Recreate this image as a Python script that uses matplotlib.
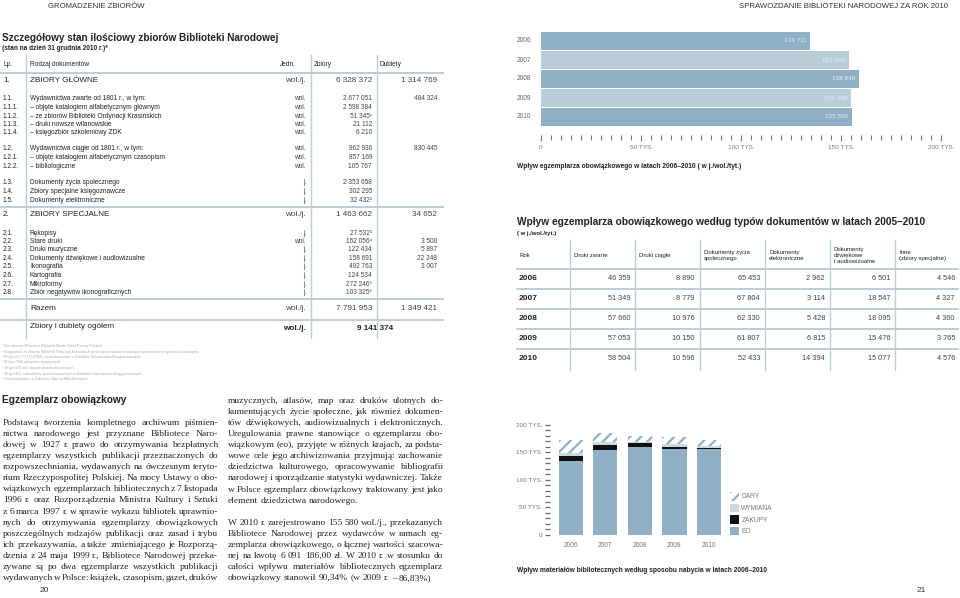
import matplotlib
matplotlib.use('Agg')
import matplotlib.pyplot as plt
from matplotlib.lines import Line2D
import numpy as np

plt.rcParams['font.family'] = ['Liberation Sans', 'DejaVu Sans']
plt.rcParams['hatch.linewidth'] = 1.6

# --- dane: tabela stanu zbiorów ---
lp_small = ['1.1.', '1.1.1.', '1.1.2.', '1.1.3.', '1.1.4.', '1.2.', '1.2.1.', '1.2.2.',
            '1.3.', '1.4.', '1.5.',
            '2.1.', '2.2.', '2.3.', '2.4.', '2.5.', '2.6.', '2.7.', '2.8.']
names_small = ['Wydawnictwa zwarte od 1801 r., w tym:',
               '– objęte katalogiem alfabetycznym głównym',
               '– ze zbiorów Biblioteki Ordynacji Krasińskich',
               '– druki nowsze wilanowskie',
               '– księgozbiór szkoleniowy ZDK',
               'Wydawnictwa ciągłe od 1801 r., w tym:',
               '– objęte katalogiem alfabetycznym czasopism',
               '– bibliologiczne',
               'Dokumenty życia społecznego',
               'Zbiory specjalne księgoznawcze',
               'Dokumenty elektroniczne',
               'Rękopisy', 'Stare druki', 'Druki muzyczne',
               'Dokumenty dźwiękowe i audiowizualne', 'Ikonografia',
               'Kartografia', 'Mikroformy', 'Zbiór negatywów ikonograficznych']
units_small = ['wol.', 'wol.', 'wol.', 'wol.', 'wol.', 'wol.', 'wol.', 'wol.',
               'j.', 'j.', 'j.',
               'j.', 'wol.', 'j.', 'j.', 'j.', 'j.', 'j.', 'j.']
zbiory_small = ['2 677 051', '2 598 384', '51 345¹', '21 112', '6 210',
                '962 936', '857 169', '105 767',
                '2 353 658', '302 295', '32 432²',
                '27 532³', '162 056⁴', '122 434', '158 691', '492 763',
                '124 534', '272 246⁵', '103 325⁶']
dublety_small = ['484 324', '', '', '', '', '830 445', '', '',
                 '', '', '',
                 '', '3 500', '5 897', '22 248', '3 007', '', '', '']

lp_big = ['1.', '2.', '', '']
names_big = ['ZBIORY GŁÓWNE', 'ZBIORY SPECJALNE', 'Razem', 'Zbiory i dublety ogółem']
units_big = ['wol./j.', 'wol./j.', 'wol./j.', 'wol./j.']
zbiory_big = ['6 328 372', '1 463 662', '7 791 953', '9 141 374']
dublety_big = ['1 314 769', '34 652', '1 349 421', '']

footnotes = ['* Bez zbiorów Wirtualnej Biblioteki Nauki i Dzieł Pisarzy Polskich.',
             '¹ Księgozbiór ze zbiorów Biblioteki Ordynacji Krasińskich przed opracowaniem i skomputeryzowaniem w systemach katalogów.',
             '² W tym 23 173 CD-ROM-y przechowywane w Zakładzie Dokumentów Księgoznawczych.',
             '³ W tym 7940 rękopisów muzycznych.',
             '⁴ W tym 615 wol. starych druków muzycznych.',
             '⁵ W tym 80 j. mikrofilmów, przechowywanych w Zakładzie Dokumentów Księgoznawczych.',
             '⁶ Przechowywane w Zakładzie Zbiorów Mikrofilmowych.']

# --- dane: wpływ eo 2006-2010 ---
years = ['2006', '2007', '2008', '2009', '2010']
eo = [134711, 153920, 158849, 155066, 155580]
eo_labels = ['134 711', '153 920', '158 849', '155 066', '155 580']

# --- dane: według typów dokumentów ---
t2_headers = ['Rok', 'Druki zwarte', 'Druki ciągłe', 'Dokumenty życia\nspołecznego',
              'Dokumenty\nelektroniczne', 'Dokumenty\ndźwiękowe\ni audiowizualne',
              'Inne\n(zbiory specjalne)']
druki_zwarte = ['46 359', '51 349', '57 660', '57 053', '58 504']
druki_ciagle = ['8 890', '8 779', '10 976', '10 150', '10 596']
zycie_spol = ['65 453', '67 804', '62 330', '61 807', '52 433']
elektroniczne = ['2 962', '3 114', '5 428', '6 815', '14 394']
dzwiekowe = ['6 501', '18 547', '18 095', '15 476', '15 077']
inne = ['4 546', '4 327', '4 360', '3 765', '4 576']

# --- dane: sposób nabycia ---
zakupy = [8500, 9000, 7000, 4000, 2500]
wymiana = [5000, 5000, 3000, 6000, 3000]
dary = [24000, 17500, 10500, 13000, 11000]

# --- tekst ---
col_left = ['Podstawą tworzenia kompletnego archiwum piśmien-',
            'nictwa narodowego jest przyznane Bibliotece Naro-',
            'dowej w 1927 r. prawo do otrzymywania bezpłatnych',
            'egzemplarzy wszystkich publikacji przeznaczonych do',
            'rozpowszechniania, wydawanych na ówczesnym teryto-',
            'rium Rzeczypospolitej Polskiej. Na mocy Ustawy o obo-',
            'wiązkowych egzemplarzach bibliotecznych z 7 listopada',
            '1996 r. oraz Rozporządzenia Ministra Kultury i Sztuki',
            'z 6 marca 1997 r. w sprawie wykazu bibliotek uprawnio-',
            'nych do otrzymywania egzemplarzy obowiązkowych',
            'poszczególnych rodzajów publikacji oraz zasad i trybu',
            'ich przekazywania, a także zmieniającego je Rozporzą-',
            'dzenia z 24 maja 1999 r., Bibliotece Narodowej przeka-',
            'zywane są po dwa egzemplarze wszystkich publikacji',
            'wydawanych w Polsce: książek, czasopism, gazet, druków']
col_right = ['muzycznych, atlasów, map oraz druków ulotnych do-',
             'kumentujących życie społeczne, jak również dokumen-',
             'tów dźwiękowych, audiowizualnych i elektronicznych.',
             'Uregulowania prawne stanowiące o egzemplarzu obo-',
             'wiązkowym (eo), przyjęte w różnych krajach, za podsta-',
             'wowe cele jego archiwizowania przyjmują: zachowanie',
             'dziedzictwa kulturowego, opracowywanie bibliografii',
             'narodowej i sporządzanie statystyki wydawniczej. Także',
             'w Polsce egzemplarz obowiązkowy traktowany jest jako',
             'element dziedzictwa narodowego.',
             '',
             'W 2010 r. zarejestrowano 155 580 wol./j., przekazanych',
             'Bibliotece Narodowej przez wydawców w ramach eg-',
             'zemplarza obowiązkowego, o łącznej wartości szacowa-',
             'nej na kwotę 6 091 186,00 zł. W 2010 r. w stosunku do',
             'całości wpływu materiałów bibliotecznych egzemplarz',
             'obowiązkowy stanowił 90,34% (w 2009 r. – 86,83%)']

W, H = 960, 598
fig = plt.figure(figsize=(W / 100, H / 100), dpi=100)
renderer = fig.canvas.get_renderer()

DARK = '#222222'
LINE = '#bccdd8'
BLUE = '#8fb0c5'
LIGHT = '#b9cdd9'
PALE = '#cbd8e1'
BODY = 6.8


def T(x, y, s, size=4.6, ha='left', va='center', color=DARK, **kw):
    return fig.text(x / W, 1 - y / H, s, fontsize=size, ha=ha, va=va, color=color, **kw)


def hline(x0, x1, y, color=LINE, lw=1.2):
    fig.add_artist(Line2D([x0 / W, x1 / W], [1 - y / H, 1 - y / H], color=color, lw=lw))


def vline(x, y0, y1, color=LINE, lw=1.0):
    fig.add_artist(Line2D([x / W, x / W], [1 - y0 / H, 1 - y1 / H], color=color, lw=lw))


def text_width(s, size):
    t = T(0, 0, s, size=size, family='Liberation Serif')
    w = t.get_window_extent(renderer).width
    t.remove()
    return w


SPACE = text_width('a a', BODY) - 2 * text_width('a', BODY)


def justified(x0, x1, y, line, size, last=False):
    # tekst wyjustowany jak w składzie strony
    words = line.split(' ')
    texts = [T(x0, y, w, size=size, family='Liberation Serif') for w in words]
    widths = [t.get_window_extent(renderer).width for t in texts]
    if last or len(words) < 2:
        gap = SPACE
    else:
        gap = (x1 - x0 - sum(widths)) / (len(words) - 1)
    x = x0
    for t, wd in zip(texts, widths):
        t.set_x(x / W)
        x += wd + gap


# nagłówki stron
T(48, 6, 'GROMADZENIE ZBIORÓW', size=5.6, color='#333333')
T(948, 6, 'SPRAWOZDANIE BIBLIOTEKI NARODOWEJ ZA ROK 2010', size=5.6, ha='right', color='#333333')
T(40, 591, '20', size=6, color='#333333')
T(917, 591, '21', size=6, color='#333333')

# ---------------- tabela 1 ----------------
T(2, 38, 'Szczegółowy stan ilościowy zbiorów Biblioteki Narodowej', size=7.2, weight='bold')
T(2, 48, '(stan na dzień 31 grudnia 2010 r.)*', size=4.7, weight='bold')

for x in (26, 310.5, 377):
    vline(x, 55, 338)
hline(0, 443, 73, lw=1.4)
hline(0, 443, 207, lw=1.4)
hline(0, 443, 299, lw=1.4)
hline(0, 443, 320, lw=1.4)

T(3, 65, 'Lp.', size=4.7)
T(30, 65, 'Rodzaj dokumentów', size=4.7)
T(280, 65, 'Jedn.', size=4.7)
T(314, 65, 'Zbiory', size=4.7)
T(380, 65, 'Dublety', size=4.7)

small_y = [99, 107.5, 116, 124.5, 133, 149, 157.5, 166, 183, 191.5, 200,
           233, 241.5, 250, 258.5, 267, 275.5, 284, 292.5]
for i, yy in enumerate(small_y):
    T(3, yy, lp_small[i], size=4.7)
    T(30, yy, names_small[i], size=4.8)
    T(306, yy, units_small[i], size=4.7, ha='right', color='#444444')
    T(372, yy, zbiory_small[i], size=4.7, ha='right', color='#444444')
    T(437, yy, dublety_small[i], size=4.7, ha='right', color='#444444')

big_y = [81, 215, 309, 327]
for i, yy in enumerate(big_y):
    last = i == 3
    T(3, yy, lp_big[i], size=5.9)
    T(30, yy, names_big[i], size=5.9)
    T(306, yy + (2 if last else 0), units_big[i], size=5.9, ha='right',
      weight='bold' if last else 'normal', color=DARK if last else '#444444')
    if last:
        T(375, yy + 2, zbiory_big[i], size=5.9, ha='center', weight='bold')
    else:
        T(372, yy, zbiory_big[i], size=5.9, ha='right', color='#444444')
        T(437, yy, dublety_big[i], size=5.9, ha='right', color='#444444')

for i, s in enumerate(footnotes):
    T(2, 346 + i * 5.5, s, size=2.5, color='#aaaaaa')

# ---------------- tekst ----------------
T(2, 400, 'Egzemplarz obowiązkowy', size=7.3, weight='bold')
for i, s in enumerate(col_left):
    justified(3, 218, 423 + i * 11.07, s, BODY)
for i, s in enumerate(col_right):
    if s:
        end = i + 1 == len(col_right) or col_right[i + 1] == ''
        justified(228, 443, 401 + i * 11.07, s, BODY, last=end)

# ---------------- wykres 1: wpływ eo ----------------
ax1 = fig.add_axes([541 / W, 1 - 126.5 / H, 400 / W, 95 / H])
pos = np.arange(len(years))
bar_cols = [BLUE if i % 2 == 0 else LIGHT for i in range(len(years))]
ax1.barh(pos, eo, height=0.9, color=bar_cols)
for i, v in enumerate(eo):
    ax1.text(v - 2000, i, eo_labels[i], ha='right', va='center', fontsize=4.6, color='#e6edf2')
    ax1.text(-12000, i, years[i], ha='left', va='center', fontsize=4.8, color='#666666')
ax1.set_xlim(0, 200000)
ax1.set_ylim(4.5, -0.5)
ax1.set_yticks([])
for s in ('top', 'right', 'left'):
    ax1.spines[s].set_visible(False)
ax1.spines['bottom'].set_position(('outward', 6))
ax1.spines['bottom'].set_visible(False)
ax1.set_xticks(np.arange(0, 200001, 50000))
ax1.set_xticklabels(['0', '50 TYS.', '100 TYS.', '150 TYS.', '200 TYS.'])
ax1.set_xticks(np.arange(0, 200001, 5000), minor=True)
ax1.tick_params(axis='x', which='major', length=4, width=0.8, color='#777777',
                labelsize=4.6, labelcolor='#777777', pad=3.5)
ax1.tick_params(axis='x', which='minor', length=3.3, width=0.8, color='#777777')
ax1.patch.set_alpha(0)
T(517, 166, 'Wpływ egzemplarza obowiązkowego w latach 2006–2010 ( w j./wol./tyt.)', size=4.8, weight='bold')

# ---------------- tabela 2 ----------------
T(517, 222, 'Wpływ egzemplarza obowiązkowego według typów dokumentów w latach 2005–2010',
  size=7.3, weight='bold')
T(517, 233, '( w j./wol./tyt.)', size=4.3, weight='bold')
col_lines = [570, 635, 700, 765, 830, 895]
for x in col_lines:
    vline(x, 240, 370)
for yy in (268.5, 288.5, 308.5, 328.5, 348.5):
    hline(517, 958, yy, lw=1.4)
head_x = [519] + [x + 4 for x in col_lines]
for hx, h in zip(head_x, t2_headers):
    T(hx, 255, h, size=4.3, linespacing=1.25)
row_y = [279, 298.5, 318.5, 338.5, 358.5]
t2_cols = [druki_zwarte, druki_ciagle, zycie_spol, elektroniczne, dzwiekowe, inne]
right_x = [630, 695, 760, 825, 890, 955]
for r, yy in enumerate(row_y):
    T(519, yy, years[r], size=6, weight='bold')
    for c, col in enumerate(t2_cols):
        T(right_x[c], yy, col[r], size=5.3, ha='right', color='#444444')

# ---------------- wykres 2: sposób nabycia ----------------
ax2 = fig.add_axes([550 / W, 1 - 535 / H, 177 / W, 110.4 / H])
b1 = np.array(eo)
b2 = b1 + np.array(zakupy)
b3 = b2 + np.array(wymiana)
h_eo = ax2.bar(pos, eo, width=0.7, color=BLUE, linewidth=0)
h_zak = ax2.bar(pos, zakupy, bottom=b1, width=0.7, color='#111111', linewidth=0)
h_wym = ax2.bar(pos, wymiana, bottom=b2, width=0.7, color=PALE, linewidth=0)
h_dar = ax2.bar(pos, dary, bottom=b3, width=0.7, color='white', edgecolor=BLUE,
                hatch='///', linewidth=0)
ax2.set_xlim(-0.6, 4.52)
ax2.set_ylim(0, 200000)
for s in ('top', 'right', 'left', 'bottom'):
    ax2.spines[s].set_visible(False)
ax2.set_xticks(pos)
ax2.set_xticklabels(years)
ax2.tick_params(axis='x', length=0, labelsize=4.8, labelcolor='#777777', pad=5)
ax2.set_yticks(np.arange(0, 200001, 50000))
ax2.set_yticklabels(['0', '50 TYS.', '100 TYS.', '150 TYS.', '200 TYS.'])
ax2.set_yticks(np.arange(0, 200001, 10000), minor=True)
ax2.tick_params(axis='y', which='both', length=3.6, width=0.9, color='#666666',
                labelsize=4.6, labelcolor='#777777', pad=2)
ax2.patch.set_alpha(0)
ax2.legend([h_dar, h_wym, h_zak, h_eo], ['DARY', 'WYMIANA', 'ZAKUPY', 'EO'],
           loc='upper left', bbox_to_anchor=(730 / W, 1 - 492 / H),
           bbox_transform=fig.transFigure, frameon=False, fontsize=4.8,
           handlelength=1.3, handleheight=1.6, labelspacing=0.45, handletextpad=0.4,
           borderpad=0, borderaxespad=0, labelcolor='#777777')
T(517, 570, 'Wpływ materiałów bibliotecznych według sposobu nabycia w latach 2006–2010',
  size=4.8, weight='bold')

fig.savefig('out.png', dpi=100)
